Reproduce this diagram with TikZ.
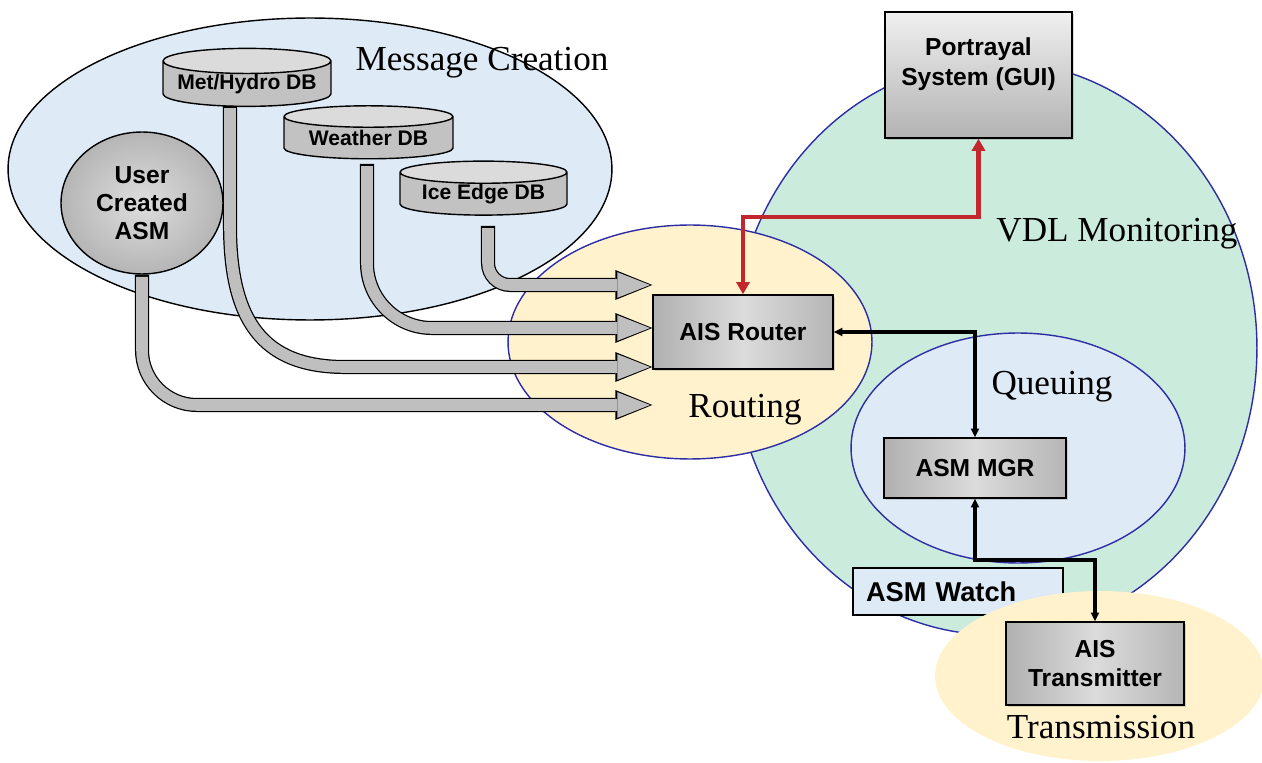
\documentclass[tikz,border=0pt]{standalone}
\usepackage{fontspec}
\setmainfont{Liberation Serif}
\setsansfont{Liberation Sans}
\usepackage{tikz}
\usetikzlibrary{positioning,arrows.meta,shapes.geometric,shadows}
\definecolor{MsgBlue}{HTML}{DEEBF7}
\definecolor{RouteYellow}{HTML}{FFF2CC}
\definecolor{VdlGreen}{HTML}{CBEBDC}
\definecolor{RingBlue}{RGB}{45,45,165}
\definecolor{LinkRed}{RGB}{192,40,45}
\tikzset{
  zone/.style={ellipse, inner sep=0pt, draw=RingBlue, thick},
  zonelabel/.style={font=\fontsize{20}{24}\selectfont, inner sep=0pt},
  boxshadow/.style={drop shadow={shadow xshift=1.2pt, shadow yshift=-1.2pt, opacity=0.3}},
  unitbox/.style={draw=black, thick, left color=gray!62, right color=gray!58, middle color=gray!28,
    align=center, font=\sffamily\bfseries\fontsize{14}{17}\selectfont, inner sep=2pt, boxshadow},
  dbcyl/.style={cylinder, shape border rotate=90, aspect=0.18, draw=black, thick,
    cylinder uses custom fill, cylinder body fill=gray!48, cylinder end fill=gray!28,
    font=\sffamily\bfseries\fontsize{12}{14}\selectfont, inner sep=0pt},
  fatarrow/.style={draw=gray!50, line width=6.6pt, shorten >=1.3pt, shorten <=1.2pt,
    -{Triangle[length=18.6pt, width=14.6pt, line width=0pt]},
    preaction={draw=black, line width=8pt, shorten >=0pt, shorten <=0pt,
      -{Triangle[length=21pt, width=17pt, line width=0pt]}}},
  redlink/.style={LinkRed, line width=2.3pt,
    {Triangle[length=7pt, width=7.5pt]}-{Triangle[length=7pt, width=7.5pt]}},
  blacklink/.style={black, line width=1.8pt,
    {Triangle[length=5pt, width=4.5pt]}-{Triangle[length=5pt, width=4.5pt]}},
}
\begin{document}
\begin{tikzpicture}[x=0.02cm, y=-0.02cm]
  \useasboundingbox (0,0) rectangle (1262,763);
  % regions
  \node[zone, draw=black, fill=MsgBlue, minimum width=12.08cm, minimum height=6.04cm] (mc) at (310,169) {};
  \node[zone, fill=VdlGreen, minimum width=10.48cm, minimum height=11.48cm] (vdl) at (995,348) {};
  \node[zone, fill=RouteYellow, minimum width=7.28cm, minimum height=4.68cm] (routing) at (690,342) {};
  \node[zone, fill=MsgBlue, minimum width=6.68cm, minimum height=4.6cm] (queue) at (1018,448) {};
  \node[draw=black, thick, fill=MsgBlue, minimum width=4.2cm, minimum height=0.94cm, inner xsep=0.26cm,
    text width=3.68cm, align=left, font=\sffamily\bfseries\fontsize{15.5}{18}\selectfont] (watch) at (958,591.5) {ASM Watch};
  \node[ellipse, inner sep=0pt, fill=RouteYellow, minimum width=6.6cm, minimum height=3.4cm] (trans) at (1100,676) {};

  \node[zonelabel] (mclabel) at (482,63) {Message Creation};
  \node[zonelabel] (routelabel) at (745,410) {Routing};
  \node[zonelabel] (vdllabel) at (1117,234) {VDL Monitoring};
  \node[zonelabel] (queuelabel) at (1052,387) {Queuing};
  \node[zonelabel] (translabel) at (1101,727) {Transmission};

  % sources
  \node[dbcyl, minimum width=3.36cm, minimum height=1.06cm] (met) at (247,84) {Met/Hydro DB};
  \node[dbcyl, minimum width=3.38cm, minimum height=1.06cm] (weather) at (368.5,138) {Weather DB};
  \node[dbcyl, minimum width=3.34cm, minimum height=1.08cm] (ice) at (483.5,194) {Ice Edge DB};
  \node[ellipse, draw=black, thick, shading=radial, inner color=gray!26, outer color=gray!58,
    minimum width=3.24cm, minimum height=2.84cm, inner sep=0pt, align=center,
    font=\sffamily\bfseries\fontsize{14}{16}\selectfont] (user) at (142,203) {User\\Created\\ASM};

  % units
  \node[unitbox, minimum width=3.6cm, minimum height=1.48cm] (router) at (743,332) {AIS Router};
  \node[unitbox, minimum width=3.64cm, minimum height=1.2cm] (mgr) at (975,468) {ASM MGR};
  \node[unitbox, top color=gray!12, bottom color=gray!60, minimum width=3.74cm, minimum height=2.52cm]
    (portrayal) at (978.5,75) {Portrayal\\System (GUI)\\[-2pt]\mbox{}};
  \node[unitbox, minimum width=3.56cm, minimum height=1.66cm] (tx) at (1095,663.5) {AIS\\Transmitter};

  \coordinate (metout) at (230,106);
  \coordinate (weatherout) at (367,164);
  \coordinate (iceout) at (488,226);

  % message feeds
  \draw[fatarrow, rounded corners=1.1cm] (user.south) |- (router.west |- 0,405);
  \draw[fatarrow] (metout) -- (230,225) .. controls (230,320) and (262,367) .. (345,367) -- (router.west |- 0,367);
  \draw[fatarrow, rounded corners=1.3cm] (weatherout) |- (router.west |- 0,328);
  \draw[fatarrow, rounded corners=0.44cm] (iceout) |- (router.west |- 0,285);

  % links
  \draw[redlink] (router.north) -- (router.north |- 0,217) -| (portrayal.south);
  \draw[blacklink] (router.east) -| (mgr.north);
  \draw[blacklink] (mgr.south) -- (mgr.south |- 0,560) -| (tx.north);
\end{tikzpicture}
\end{document}
